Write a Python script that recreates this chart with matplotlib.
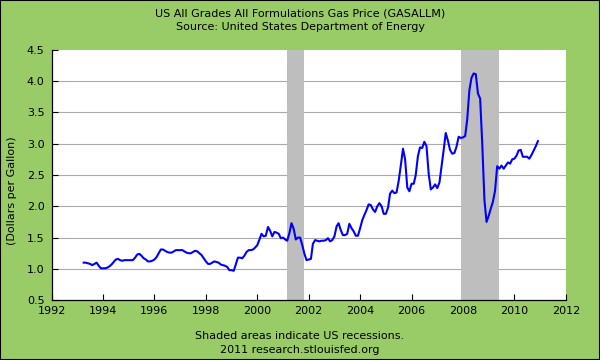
import numpy as np
import pandas as pd
import matplotlib
matplotlib.use('Agg')
import matplotlib.pyplot as plt
import matplotlib.dates as mdates
from matplotlib.patches import Rectangle

# monthly gas price, dollars per gallon, Apr 1993 - Dec 2010
p1993 = [1.10, 1.10, 1.09, 1.08, 1.06, 1.08, 1.10, 1.05, 1.01]
p1994 = [1.01, 1.01, 1.02, 1.04, 1.07, 1.11, 1.15, 1.16, 1.14, 1.13, 1.14, 1.14]
p1995 = [1.14, 1.14, 1.14, 1.18, 1.23, 1.24, 1.21, 1.17, 1.15, 1.12, 1.12, 1.13]
p1996 = [1.15, 1.19, 1.25, 1.31, 1.31, 1.29, 1.27, 1.26, 1.26, 1.28, 1.30, 1.30]
p1997 = [1.30, 1.30, 1.28, 1.26, 1.25, 1.25, 1.27, 1.29, 1.28, 1.25, 1.22, 1.17]
p1998 = [1.12, 1.08, 1.08, 1.10, 1.12, 1.11, 1.10, 1.07, 1.06, 1.05, 1.03, 0.98]
p1999 = [0.98, 0.97, 1.07, 1.18, 1.18, 1.17, 1.21, 1.27, 1.30, 1.30, 1.31, 1.34]
p2000 = [1.38, 1.47, 1.56, 1.52, 1.53, 1.67, 1.61, 1.52, 1.59, 1.58, 1.56, 1.49]
p2001 = [1.50, 1.47, 1.45, 1.57, 1.73, 1.64, 1.47, 1.50, 1.50, 1.38, 1.24, 1.14]
p2002 = [1.15, 1.16, 1.40, 1.46, 1.45, 1.44, 1.45, 1.45, 1.46, 1.49, 1.44, 1.46]
p2003 = [1.52, 1.68, 1.73, 1.62, 1.54, 1.54, 1.56, 1.72, 1.65, 1.60, 1.53, 1.53]
p2004 = [1.65, 1.78, 1.86, 1.94, 2.03, 2.02, 1.95, 1.91, 2.00, 2.05, 2.00, 1.88]
p2005 = [1.88, 1.98, 2.20, 2.25, 2.21, 2.22, 2.40, 2.65, 2.92, 2.75, 2.30, 2.24]
p2006 = [2.36, 2.36, 2.50, 2.80, 2.94, 2.93, 3.03, 2.96, 2.52, 2.27, 2.30, 2.35]
p2007 = [2.29, 2.38, 2.62, 2.89, 3.17, 3.05, 2.90, 2.84, 2.85, 2.95, 3.11, 3.09]
p2008 = [3.10, 3.12, 3.38, 3.85, 4.05, 4.12, 4.11, 3.80, 3.72, 3.00, 2.10, 1.75]
p2009 = [1.85, 1.97, 2.07, 2.25, 2.64, 2.60, 2.65, 2.60, 2.65, 2.70, 2.68, 2.75]
p2010 = [2.76, 2.81, 2.89, 2.90, 2.79, 2.79, 2.79, 2.76, 2.82, 2.89, 2.96, 3.04]

prices = (p1993 + p1994 + p1995 + p1996 + p1997 + p1998 + p1999 + p2000 + p2001
          + p2002 + p2003 + p2004 + p2005 + p2006 + p2007 + p2008 + p2009 + p2010)
dates = pd.date_range('1993-04-01', periods=len(prices), freq='MS')

recessions = [('2001-03-01', '2001-11-01'), ('2007-12-01', '2009-06-01')]

green = '#99CC66'
fs = 8

fig = plt.figure(figsize=(6, 3.6), dpi=100, facecolor=green)
ax = fig.add_axes([0.086, 0.166, 0.857, 0.696])
ax.set_facecolor('white')

for start, end in recessions:
    ax.axvspan(pd.Timestamp(start), pd.Timestamp(end), color='#BEBEBE', lw=0, zorder=2)

ax.plot(dates, prices, color='#0000FF', lw=1.5, zorder=3)

ax.set_xlim(pd.Timestamp('1992-01-01'), pd.Timestamp('2012-01-01'))
ax.set_ylim(0.5, 4.5)
ax.set_yticks(np.arange(0.5, 4.51, 0.5))
ax.xaxis.set_major_locator(mdates.YearLocator(2))
ax.xaxis.set_major_formatter(mdates.DateFormatter('%Y'))

for y in np.arange(1.0, 4.01, 0.5):
    ax.axhline(y, color='#AAAAAA', lw=0.8, zorder=1)

for s in ['top', 'right']:
    ax.spines[s].set_visible(False)
for s in ['left', 'bottom']:
    ax.spines[s].set_color('black')
    ax.spines[s].set_linewidth(0.9)

ax.tick_params(axis='both', direction='in', length=4, width=0.8, colors='black',
               labelsize=fs, pad=5)
ax.tick_params(axis='x', pad=4)

fig.text(0.5, 0.963, 'US All Grades All Formulations Gas Price (GASALLM)',
         ha='center', va='center', fontsize=fs)
fig.text(0.5, 0.925, 'Source: United States Department of Energy',
         ha='center', va='center', fontsize=fs)
fig.text(0.02, 0.47, '(Dollars per Gallon)', rotation=90,
         ha='center', va='center', fontsize=fs)
fig.text(0.5, 0.067, 'Shaded areas indicate US recessions.',
         ha='center', va='center', fontsize=fs)
fig.text(0.5, 0.028, '2011 research.stlouisfed.org',
         ha='center', va='center', fontsize=fs)

fig.patches.append(Rectangle((0, 0), 1, 1, transform=fig.transFigure,
                             fill=False, ec='black', lw=1.5))

fig.savefig('out.png', dpi=100, facecolor=green)
